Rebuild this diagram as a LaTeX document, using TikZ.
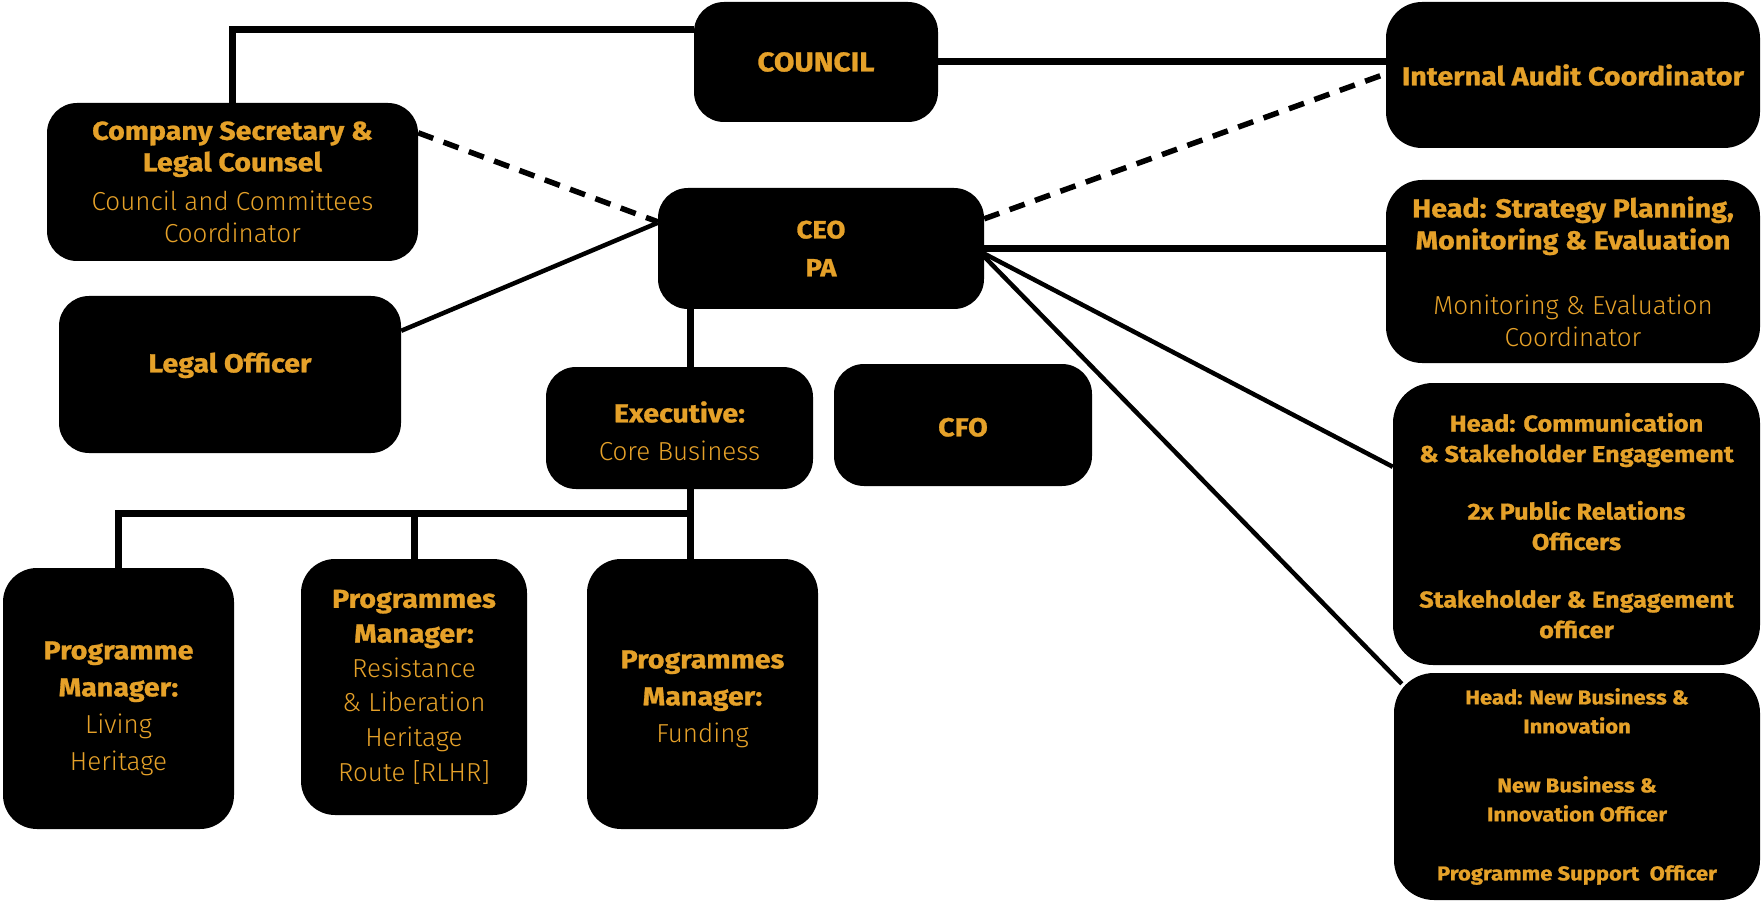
\documentclass[tikz,border=0pt]{standalone}
\usepackage{fontspec}
\setmainfont{Fira Sans}[BoldFeatures={FakeStretch=1.1,FakeBold=1}]
\IfFontExistsTF{Fira Sans Light}{\newfontfamily\flight{Fira Sans Light}}{\let\flight\relax}
\usetikzlibrary{calc}
\definecolor{gold}{HTML}{E5A129}
\tikzset{
  box/.style={fill=black, rounded corners=30pt, inner sep=0pt, text=gold, align=center},
  conn/.style={line width=7pt, black},
  thin conn/.style={line width=4.5pt, black},
  dash conn/.style={line width=5.5pt, black, dash pattern=on 16pt off 11pt},
}
\newcommand\lt[1]{{\mdseries\flight #1}}
\newcommand\up[1]{\rule[-#1]{0pt}{0pt}}
\newcommand\down[1]{\rule{0pt}{#1}}
\begin{document}
\begin{tikzpicture}[x=1pt,y=-1pt]
\useasboundingbox (0,0) rectangle (1762,901);
% boxes
\node[box, minimum width=244pt, minimum height=120pt, font=\bfseries\fontsize{27}{32}\selectfont] (council) at (816,62) {COUNCIL};
\node[box, rounded corners=36pt, minimum width=374pt, minimum height=146pt, font=\bfseries\fontsize{26}{32}\selectfont] (audit) at (1573,75) {\down{21pt}Internal Audit Coordinator};
\node[box, minimum width=371pt, minimum height=158pt, font=\bfseries\fontsize{26}{31.5}\selectfont] (secretary) at (232.5,182) {Company Secretary \&\\Legal Counsel\\[8pt]\lt{Council and Committees}\\\lt{Coordinator}};
\node[box, minimum width=326pt, minimum height=121pt, font=\bfseries\fontsize{25}{38}\selectfont] (ceo) at (821,248.5) {CEO\\PA};
\node[box, rounded corners=36pt, minimum width=374pt, minimum height=183pt, font=\bfseries\fontsize{26}{32}\selectfont] (strategy) at (1573,271.5) {Head: Strategy Planning,\\Monitoring \& Evaluation\\[33pt]\lt{Monitoring \& Evaluation}\\\lt{Coordinator}};
\node[box, minimum width=342pt, minimum height=157pt, font=\bfseries\fontsize{26}{32}\selectfont] (legal) at (230,374.5) {Legal Officer\up{24pt}};
\node[box, minimum width=267pt, minimum height=122pt, font=\bfseries\fontsize{26}{38}\selectfont] (exec) at (679.5,428) {\down{27pt}Executive:\\\lt{Core Business}};
\node[box, minimum width=258pt, minimum height=122pt, font=\bfseries\fontsize{26}{32}\selectfont] (cfo) at (963,425) {\down{23pt}CFO};
\node[box, rounded corners=40pt, minimum width=367pt, minimum height=282pt, font=\bfseries\fontsize{23}{30.5}\selectfont] (comm) at (1576.5,524) {\down{22pt}Head: Communication\\\& Stakeholder Engagement\\[27pt]2x Public Relations\\Officers\\[27pt]Stakeholder \& Engagement\\officer};
\node[box, rounded corners=40pt, minimum width=366pt, minimum height=227pt, font=\bfseries\fontsize{20}{29}\selectfont] (newbiz) at (1577,786.5) {Head: New Business \&\\Innovation\\[30pt]New Business \&\\Innovation Officer\\[30pt]Programme Support\ \ Officer};
\node[box, rounded corners=34pt, minimum width=231pt, minimum height=261pt, font=\bfseries\fontsize{26}{37}\selectfont] (pm1) at (118.5,698.5) {\down{38pt}Programme\\Manager:\\\lt{Living}\\\lt{Heritage}};
\node[box, rounded corners=34pt, minimum width=226pt, minimum height=256pt, font=\bfseries\fontsize{26}{34.7}\selectfont] (pm2) at (414,687) {Programmes\\Manager:\\\lt{Resistance}\\\lt{\& Liberation}\\\lt{Heritage}\\\lt{Route [RLHR]}};
\node[box, rounded corners=34pt, minimum width=231pt, minimum height=270pt, font=\bfseries\fontsize{26}{37}\selectfont] (pm3) at (702.5,694) {\down{28pt}Programmes\\Manager:\\\lt{Funding}};
% helper coordinates
\coordinate (spine) at (690,0);
\coordinate (busy) at (0,513);
% connectors
\draw[conn] (secretary.north) |- ($(council.north west)+(0,28)$);
\draw[conn] (council.east) -- (council.east -| audit.west);
\draw[dash conn] ($(secretary.north east)+(0,30)$) -- ($(ceo.north west)+(0,34)$);
\draw[thin conn] ($(legal.north east)+(0,35)$) -- ($(ceo.north west)+(0,35)$);
\draw[dash conn] ($(ceo.north east)+(0,31)$) -- ($(audit.north west)+(0,72)$);
\draw[conn] (ceo.east) -- (ceo.east -| strategy.west);
\draw[thin conn] ($(ceo.east)+(-6,2)$) -- ($(comm.north west)+(0,84)$);
\draw[thin conn] ($(ceo.east)+(-6,2)$) -- ($(newbiz.north west)+(8,11)$);
\draw[conn] (ceo.south -| spine) -- (exec.north -| spine);
\draw[conn] (exec.south -| spine) -- (pm3.north -| spine);
\draw[conn] (pm1.north) |- (spine |- busy);
\draw[conn] (pm2.north) -- (pm2.north |- busy);
\end{tikzpicture}
\end{document}
